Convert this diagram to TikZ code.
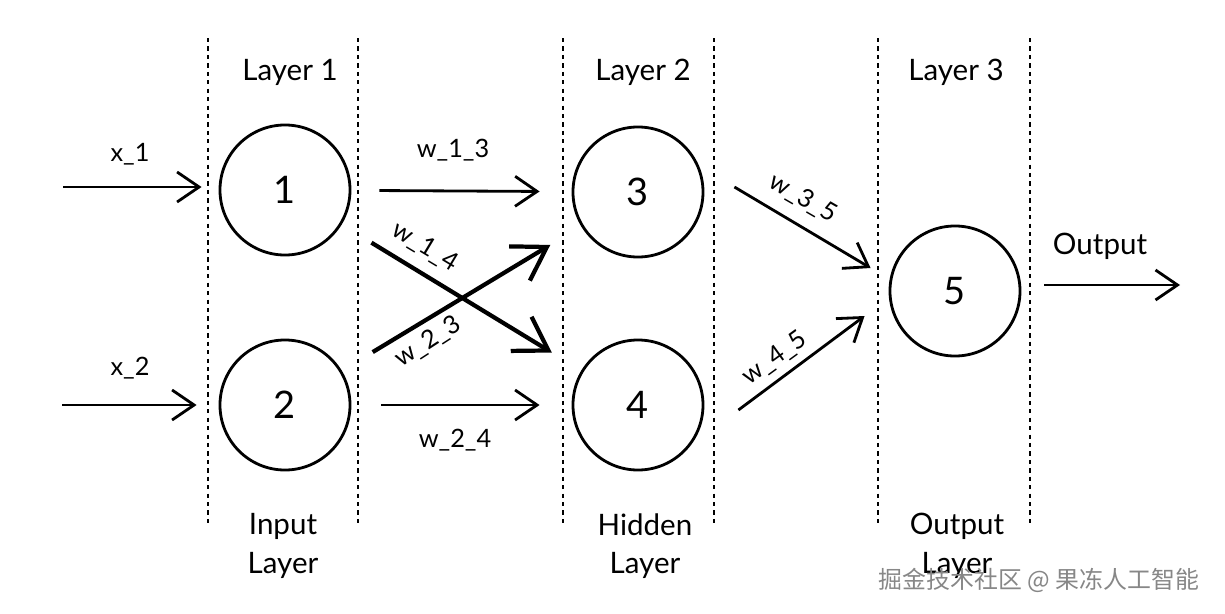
\documentclass[tikz,border=0pt]{standalone}
\usepackage{fontspec}
\setmainfont{Lato}
\newfontfamily\cjk{Noto Sans CJK SC}
\usepackage{tikz}
\usetikzlibrary{positioning,arrows.meta,calc}
\definecolor{markgrey}{RGB}{135,135,135}

\tikzset{
  neuron/.style={circle,draw,line width=2pt,minimum size=3.25cm,inner sep=0pt,
    font=\fontsize{27}{30}\selectfont},
  conn/.style={line width=2pt,-{Straight Barb[length=5.5mm,width=7.5mm]}},
  boldconn/.style={line width=3pt,-{Straight Barb[length=8mm,width=10mm]}},
  divider/.style={line width=1.4pt,dash pattern=on 3pt off 3pt},
  wlabel/.style={font=\fontsize{18}{20}\selectfont},
  layertitle/.style={font=\fontsize{21}{27.5}\selectfont,align=center},
}

\begin{document}
\begin{tikzpicture}[x=0.025cm,y={(0cm,-0.025cm)}]
\useasboundingbox (0,0) rectangle (1225,613);

% layer columns
\foreach \xa in {208,358,563,714,878,1030}
  \draw[divider] (\xa,38) -- (\xa,527);
\node[layertitle] (t1) at (290,72) {Layer 1};
\node[layertitle] (t2) at (643,72) {Layer 2};
\node[layertitle] (t3) at (956,72) {Layer 3};

% neurons
\node[neuron] (n1) at (285,190) {1};
\node[neuron] (n2) at (285,405) {2};
\node[neuron] (n3) at (638,192) {3};
\node[neuron] (n4) at (638,405) {4};
\node[neuron] (n5) at (955,291) {5};

% inputs
\coordinate (x1in) at (63,187);
\coordinate (x2in) at (62,405);
\draw[conn] (x1in) -- ([shift={(-17,-3)}]n1.west);
\draw[conn] (x2in) -- ([shift={(-22,0)}]n2.west);
\node[wlabel] (lx1) at (130,154) {x\_1};
\node[wlabel] (lx2) at (130,368) {x\_2};

% layer 1 -> layer 2
\draw[conn,shorten <=0.7cm,shorten >=0.8cm] (n1) -- (n3);
\draw[conn,shorten <=0.75cm,shorten >=0.8cm] (n2) -- (n4);
\draw[boldconn,shorten <=0.87cm,shorten >=0.86cm] (n1) -- (n4);
\draw[boldconn,shorten <=0.9cm,shorten >=0.9cm] (n2) -- (n3);
\node[wlabel] (w13) at (453,150) {w\_1\_3};
\node[wlabel] (w24) at (455,440) {w\_2\_4};
\node[wlabel,rotate=-31] (w14) at (425,247) {w\_1\_4};
\node[wlabel,rotate=33] (w23) at (428,342) {w\_2\_3};

% layer 2 -> layer 3
\draw[conn] ([shift={(30,-5)}]n3.east) -- ([shift={(-18,-23)}]n5.west);
\draw[conn] ([shift={(34,5)}]n4.east) -- ([shift={(-24,25)}]n5.west);
\node[wlabel,rotate=-30] (w35) at (803,198) {w\_3\_5};
\node[wlabel,rotate=36] (w45) at (775,358) {w\_4\_5};

% output
\coordinate (outend) at (1180,285);
\draw[conn] ([shift={(23,-6)}]n5.east) -- (outend);
\node[layertitle] (lout) at (1100,246) {Output};

% layer names
\node[layertitle] (b1) at (283,546) {Input\\Layer};
\node[layertitle] (b2) at (645,546) {Hidden\\Layer};
\node[layertitle] (b3) at (957,546) {Output\\Layer};

\node[font=\cjk\fontsize{17}{20}\selectfont,text=markgrey,fill=none] (mark) at (1039,580) {掘金技术社区 @ 果冻人工智能};
\end{tikzpicture}
\end{document}
